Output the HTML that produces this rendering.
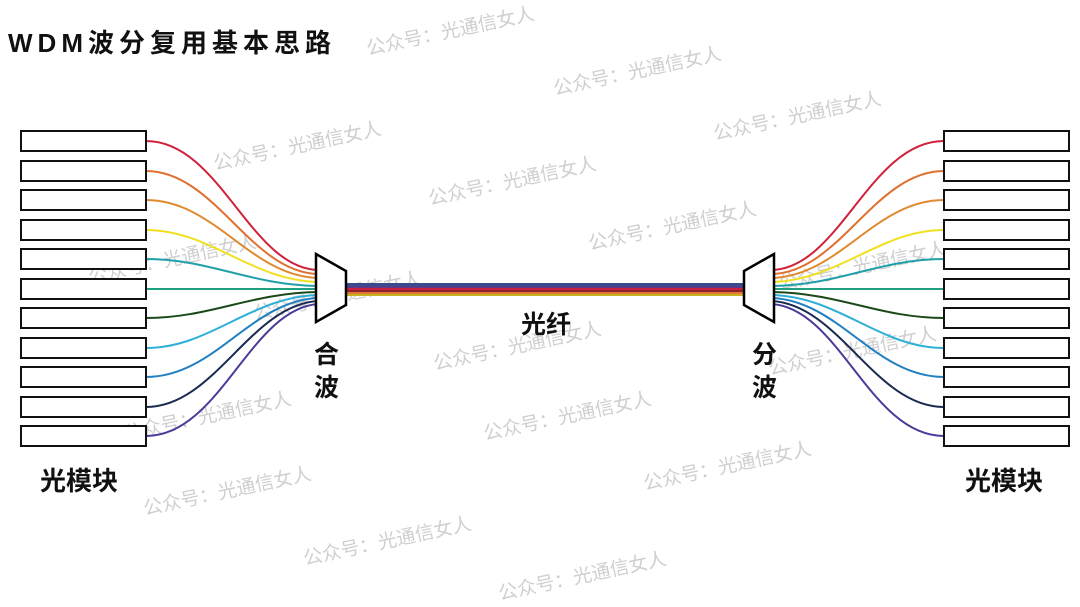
<!DOCTYPE html>
<html><head><meta charset="utf-8"><style>
html,body{margin:0;padding:0;background:#fff;}
svg{display:block;}
text{font-family:"Liberation Sans","Noto Sans CJK SC",sans-serif;}
</style></head><body>
<svg width="1080" height="607" viewBox="0 0 1080 607" xmlns="http://www.w3.org/2000/svg">
<rect width="1080" height="607" fill="#fff"/>
<g fill="#cfcfcf" font-size="19" font-family="Noto Sans CJK SC, sans-serif">
<text transform="translate(368,55) rotate(-12)">公众号：光通信女人</text>
<text transform="translate(555,95) rotate(-12)">公众号：光通信女人</text>
<text transform="translate(715,140) rotate(-12)">公众号：光通信女人</text>
<text transform="translate(215,170) rotate(-12)">公众号：光通信女人</text>
<text transform="translate(430,205) rotate(-12)">公众号：光通信女人</text>
<text transform="translate(590,250) rotate(-12)">公众号：光通信女人</text>
<text transform="translate(90,283) rotate(-12)">公众号：光通信女人</text>
<text transform="translate(780,290) rotate(-12)">公众号：光通信女人</text>
<text transform="translate(255,320) rotate(-12)">公众号：光通信女人</text>
<text transform="translate(435,370) rotate(-12)">公众号：光通信女人</text>
<text transform="translate(770,375) rotate(-12)">公众号：光通信女人</text>
<text transform="translate(125,440) rotate(-12)">公众号：光通信女人</text>
<text transform="translate(485,440) rotate(-12)">公众号：光通信女人</text>
<text transform="translate(645,490) rotate(-12)">公众号：光通信女人</text>
<text transform="translate(145,515) rotate(-12)">公众号：光通信女人</text>
<text transform="translate(305,565) rotate(-12)">公众号：光通信女人</text>
<text transform="translate(500,600) rotate(-12)">公众号：光通信女人</text>
</g>
<text x="8" y="52" font-size="26" font-weight="bold" letter-spacing="5" fill="#111">WDM波分复用基本思路</text>
<g fill="none" stroke-width="2">
<path d="M146,141 C220,141 250,268 318,270" stroke="#d0203a"/>
<path d="M146,171 C215,171 250,272 318,274" stroke="#e07030"/>
<path d="M146,200 C215,200 250,276 318,278" stroke="#e08a30"/>
<path d="M146,230 C210,230 250,280 318,282" stroke="#f0e020"/>
<path d="M146,259 C210,259 250,285 318,286" stroke="#20a0a8"/>
<path d="M146,289 C210,289 250,289 318,289" stroke="#20a080"/>
<path d="M146,318 C210,318 250,293 318,292" stroke="#1a4a1a"/>
<path d="M146,348 C210,348 250,297 318,295" stroke="#30b0d8"/>
<path d="M146,377 C215,377 250,301 318,298" stroke="#2080c0"/>
<path d="M146,407 C215,407 250,305 318,301" stroke="#1a2a50"/>
<path d="M146,436 C220,436 250,309 318,304" stroke="#4a3a9a"/>
<path d="M944,141 C870,141 840,268 772,270" stroke="#d0203a"/>
<path d="M944,171 C875,171 840,272 772,274" stroke="#e07030"/>
<path d="M944,200 C875,200 840,276 772,278" stroke="#e08a30"/>
<path d="M944,230 C880,230 840,280 772,282" stroke="#f0e020"/>
<path d="M944,259 C880,259 840,285 772,286" stroke="#20a0a8"/>
<path d="M944,289 C880,289 840,289 772,289" stroke="#20a080"/>
<path d="M944,318 C880,318 840,293 772,292" stroke="#1a4a1a"/>
<path d="M944,348 C880,348 840,297 772,295" stroke="#30b0d8"/>
<path d="M944,377 C875,377 840,301 772,298" stroke="#2080c0"/>
<path d="M944,407 C875,407 840,305 772,301" stroke="#1a2a50"/>
<path d="M944,436 C870,436 840,309 772,304" stroke="#4a3a9a"/>
</g>
<rect x="346" y="283" width="398" height="3" fill="#3a4a8a"/>
<rect x="346" y="286" width="398" height="2" fill="#5a3a8a"/>
<rect x="346" y="288" width="398" height="2" fill="#c82040"/>
<rect x="346" y="290" width="398" height="2" fill="#902030"/>
<rect x="346" y="292" width="398" height="2" fill="#e07a30"/>
<rect x="346" y="294" width="398" height="2" fill="#c8b020"/>
<polygon points="316,254 346,271 346,305 316,322" fill="#fff" stroke="#000" stroke-width="2.5"/>
<polygon points="774,254 744,271 744,305 774,322" fill="#fff" stroke="#000" stroke-width="2.5"/>
<g fill="#fff" stroke="#111" stroke-width="2">
<rect x="21" y="131" width="125" height="20"/><rect x="21" y="161" width="125" height="20"/>
<rect x="21" y="190" width="125" height="20"/><rect x="21" y="220" width="125" height="20"/>
<rect x="21" y="249" width="125" height="20"/><rect x="21" y="279" width="125" height="20"/>
<rect x="21" y="308" width="125" height="20"/><rect x="21" y="338" width="125" height="20"/>
<rect x="21" y="367" width="125" height="20"/><rect x="21" y="397" width="125" height="20"/>
<rect x="21" y="426" width="125" height="20"/>
<rect x="944" y="131" width="125" height="20"/><rect x="944" y="161" width="125" height="20"/>
<rect x="944" y="190" width="125" height="20"/><rect x="944" y="220" width="125" height="20"/>
<rect x="944" y="249" width="125" height="20"/><rect x="944" y="279" width="125" height="20"/>
<rect x="944" y="308" width="125" height="20"/><rect x="944" y="338" width="125" height="20"/>
<rect x="944" y="367" width="125" height="20"/><rect x="944" y="397" width="125" height="20"/>
<rect x="944" y="426" width="125" height="20"/>
</g>
<g font-size="25" font-weight="bold" fill="#111">
<text x="314" y="363">合</text><text x="314" y="396">波</text>
<text x="752" y="363">分</text><text x="752" y="396">波</text>
<text x="521" y="333">光纤</text>
</g>
<g font-size="26" font-weight="bold" fill="#111">
<text x="40" y="490">光模块</text>
<text x="965" y="490">光模块</text>
</g>
</svg>
</body></html>
